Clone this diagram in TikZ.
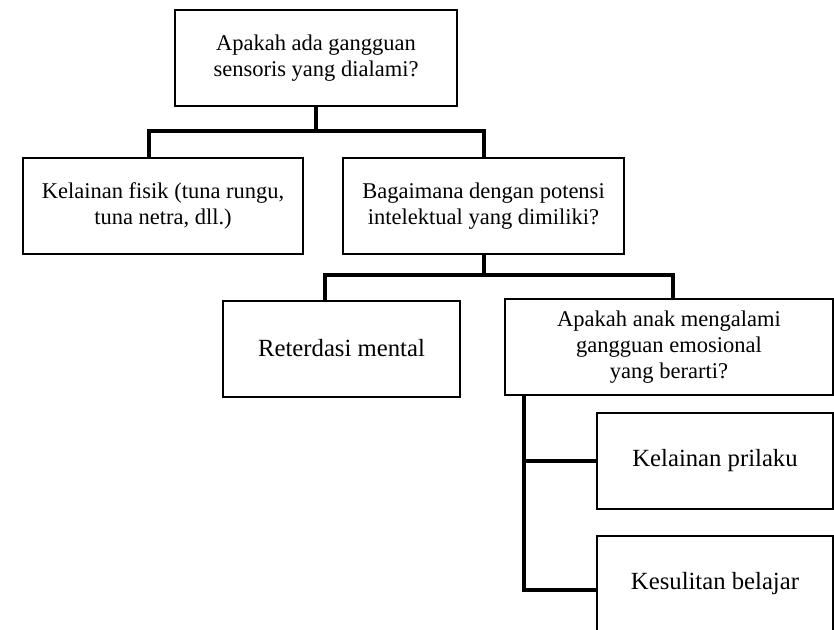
\documentclass[tikz,border=0pt]{standalone}
\usepackage{fontspec}
\setmainfont{Liberation Serif}
\usepackage{tikz}

\begin{document}
\begin{tikzpicture}[x=1pt,y=-1pt,
		box/.style={draw, line width=2pt, minimum height=96pt, inner sep=0pt, align=center, font=\fontsize{22.5}{26}\selectfont},
		bigbox/.style={box, font=\fontsize{24.7}{29}\selectfont},
		link/.style={line width=4pt}]
			\useasboundingbox (0,0) rectangle (834,629);
			\node[box, minimum width=282pt] (sensoris) at (316,58) {Apakah ada gangguan\\sensoris yang dialami?};
			\node[box, minimum width=280pt] (fisik) at (163,206) {Kelainan fisik (tuna rungu,\\tuna netra, dll.)};
			\node[box, minimum width=281pt] (potensi) at (483.5,206) {Bagaimana dengan potensi\\intelektual yang dimiliki?};
			\node[bigbox, minimum width=237pt] (mental) at (341.5,348.5) {Reterdasi mental};
			\node[box, minimum width=328pt] (emosi) at (669,347) {Apakah anak mengalami\\gangguan emosional\\yang berarti?};
			\node[bigbox, minimum width=236pt] (prilaku) at (715,461) {Kelainan prilaku};
			\node[bigbox, minimum width=236pt] (belajar) at (715,584) {Kesulitan belajar};
			\coordinate (j1) at (316,131);
			\coordinate (j2) at (483.5,275);
			\coordinate (j3) at ([xshift=20pt]emosi.south west);
			\draw[link] (sensoris.south) -- (j1) -| ([xshift=-14pt]fisik.north);
			\draw[link] (j1) -| (potensi.north);
			\draw[link] (potensi.south) -- (j2) -| ([xshift=-16.5pt]mental.north);
			\draw[link] (j2) -| ([xshift=4pt]emosi.north);
			\draw[link] (j3) |- (prilaku.west);
			\draw[link] (j3) |- ([yshift=-6pt]belajar.west);
		\end{tikzpicture}
\end{document}
